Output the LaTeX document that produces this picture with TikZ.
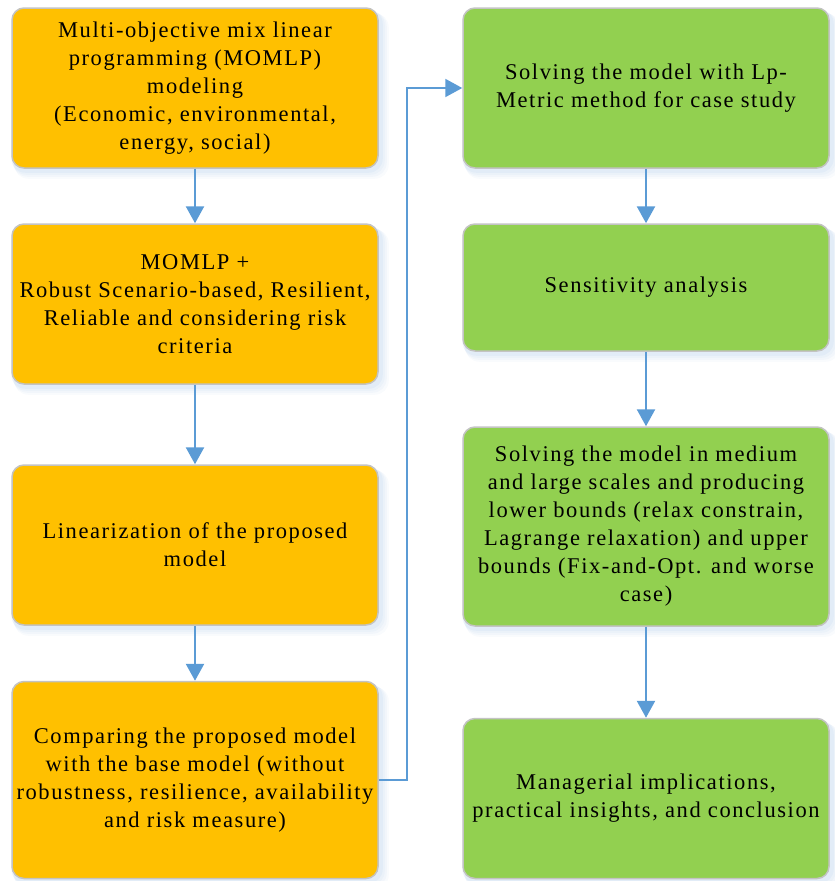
\documentclass[tikz,border=0pt]{standalone}
\usepackage{fontspec}
\setmainfont{Liberation Serif}
\newfontfamily\boxfont[LetterSpace=7]{Liberation Serif}
\usetikzlibrary{arrows.meta,backgrounds}
\definecolor{boxorange}{RGB}{255,192,0}
\definecolor{boxgreen}{RGB}{146,208,80}
\definecolor{boxedge}{RGB}{195,195,195}
\definecolor{arrowblue}{RGB}{91,155,213}
\definecolor{shadowblue}{RGB}{150,185,225}
\tikzset{
  stepbox/.style={draw=boxedge, line width=1.5pt, rounded corners=12pt,
    align=center, inner sep=0pt, minimum width=366pt,
    font=\boxfont\fontsize{22.5}{28}\selectfont},
  orangebox/.style={stepbox, fill=boxorange},
  greenbox/.style={stepbox, fill=boxgreen},
  flow/.style={draw=arrowblue, line width=2.5pt, -{Triangle[width=18pt,length=17pt]}},
  longflow/.style={draw=arrowblue, line width=2pt, -{Triangle[width=18pt,length=17pt]}},
}
\begin{document}
\begin{tikzpicture}[x=1pt,y=1pt]
\useasboundingbox (0,0) rectangle (835,-881);
\node[orangebox, minimum height=160pt] (L1) at (195,-88)
  {Multi-objective mix linear\\programming (MOMLP)\\modeling\\(Economic, environmental,\\energy, social)};
\node[orangebox, minimum height=160pt] (L2) at (195,-304)
  {MOMLP +\\Robust Scenario-based, Resilient,\\Reliable and considering risk\\criteria};
\node[orangebox, minimum height=160pt] (L3) at (195,-545)
  {Linearization of the proposed\\model};
\node[orangebox, minimum height=197pt] (L4) at (195,-780)
  {Comparing the proposed model\\with the base model (without\\robustness, resilience, availability\\and risk measure)};
\node[greenbox, minimum height=160pt] (R1) at (646,-88)
  {Solving the model with Lp-\\Metric method for case study};
\node[greenbox, minimum height=127pt] (R2) at (646,-287.5)
  {Sensitivity analysis};
\node[greenbox, minimum height=199pt] (R3) at (646,-526.5)
  {Solving the model in medium\\and large scales and producing\\lower bounds (relax constrain,\\Lagrange relaxation) and upper\\bounds (Fix-and-Opt. and worse\\case)};
\node[greenbox, minimum height=160pt] (R4) at (646,-798.5)
  {Managerial implications,\\practical insights, and conclusion};
\begin{scope}[on background layer]
  \foreach \n in {L1,L2,L3,L4,R1,R2,R3,R4}{
    \foreach \d/\o in {10/0.06,8/0.07,6/0.08,4/0.1}{
      \fill[shadowblue, opacity=\o, rounded corners=14pt]
        ([xshift=-2pt+0.5*\d pt, yshift=-0.6*\d pt]\n.north west)
        rectangle ([xshift=\d pt, yshift=-\d pt]\n.south east);
    }
  }
\end{scope}
\draw[flow] (L1) -- (L2);
\draw[flow] (L2) -- (L3);
\draw[flow] (L3) -- (L4);
\draw[flow] (R1) -- (R2);
\draw[flow] (R2) -- (R3);
\draw[flow] (R3) -- (R4);
\draw[longflow] (L4.east) -- ++(28,0) |- (R1.west);
\end{tikzpicture}
\end{document}
